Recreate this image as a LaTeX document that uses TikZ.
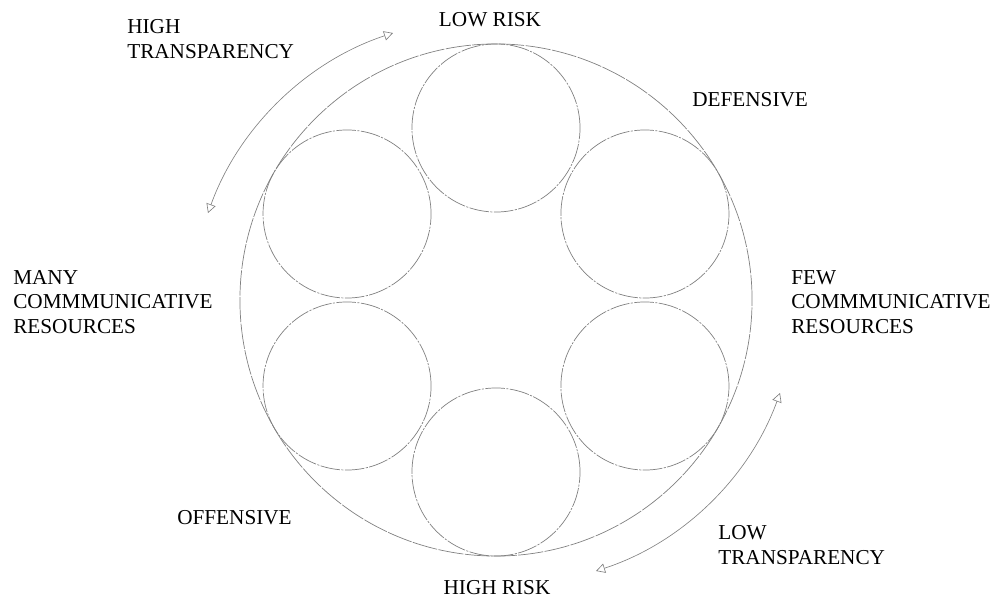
\documentclass[tikz,border=0pt]{standalone}
\usepackage{fontspec}
\setmainfont{Liberation Serif}
\usepackage{tikz}
\usetikzlibrary{arrows.meta,positioning,calc}

\begin{document}
\begin{tikzpicture}[x=0.025cm, y=0.025cm, every node/.style={font=\fontsize{15.1}{17.4}\selectfont, inner sep=0pt}, rim/.style={draw=black!50,line width=0.5pt,circle,minimum size=12.8cm,dash pattern=on 18pt off 1pt}, ring/.style={draw=black!50,line width=0.5pt,circle,minimum size=4.2cm,dash pattern=on 14pt off 1pt on 1.5pt off 1pt}, swing/.style={draw=black!50,line width=0.45pt,{Triangle[open,length=6.4pt,width=6.8pt]}-{Triangle[open,length=6.4pt,width=6.8pt]}}, lbl/.style={align=left,anchor=west}]
    \useasboundingbox (0,0) rectangle (995,601);
    \coordinate (ctr) at (496,301);

    % outer rim and the six inner circles
    \node[rim] (outer) at (ctr) {};
    \foreach \a [count=\i] in {90,30,-30,-90,-150,150}{
      \node[ring] (c\i) at ([shift={(\a:172)}]ctr) {};
    }

    % labels round the rim
    \node[lbl] (hightr) at (127,562) {HIGH\\TRANSPARENCY};
    \node (lowrisk) at (490,581) {LOW RISK};
    \node[anchor=west] (defens) at (692,501) {DEFENSIVE};
    \node[lbl] (fewres) at (791,299) {FEW\\COMMMUNICATIVE\\RESOURCES};
    \node[lbl] (manyres) at (13,299) {MANY\\COMMMUNICATIVE\\RESOURCES};
    \node[anchor=west] (offens) at (177,83) {OFFENSIVE};
    \node (highrisk) at (497,13) {HIGH RISK};
    \node[lbl] (lowtr) at (718,56) {LOW\\TRANSPARENCY};

    % double arrows outside the rim
    \coordinate (ht1) at (208,388);
    \coordinate (ht2) at (393,568);
    \draw[swing] (ht1) to[bend left=26, looseness=0.9] (ht2);
    \coordinate (lt1) at (780,208);
    \coordinate (lt2) at (596,30);
    \draw[swing] (lt1) to[bend left=26, looseness=0.9] (lt2);
\end{tikzpicture}
\end{document}
